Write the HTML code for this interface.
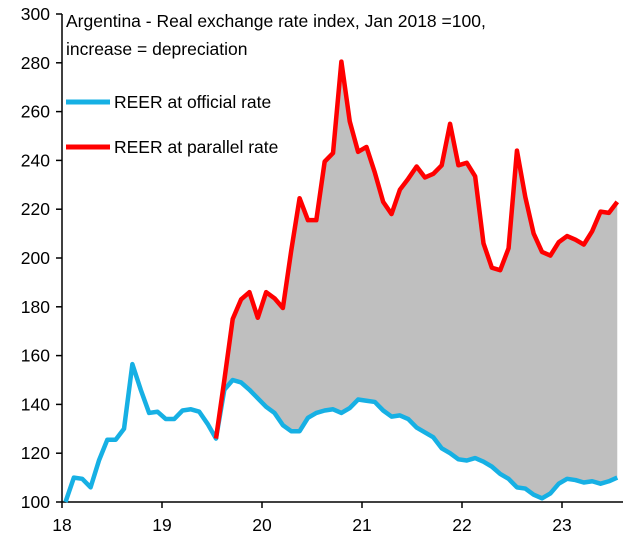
<!DOCTYPE html>
<html><head><meta charset="utf-8"><style>
body{margin:0;background:#fff;}
svg{display:block;font-family:"Liberation Sans",Arial,sans-serif;}
</style></head><body>
<svg id="chart" width="631" height="546">
<g id="plot"></g>
<text x="66" y="27" font-size="17.5" fill="#000">Argentina - Real exchange rate index, Jan 2018 =100,</text>
<text x="66" y="55" font-size="17.5" fill="#000">increase = depreciation</text>
<g>
<line x1="66" y1="102" x2="110" y2="102" stroke="#16b0e4" stroke-width="5"/>
<text x="114" y="108" font-size="17.5">REER at official rate</text>
</g>
<g>
<line x1="66" y1="147" x2="110" y2="147" stroke="#ff0000" stroke-width="5"/>
<text x="114" y="153" font-size="17.5">REER at parallel rate</text>
</g>
</svg>
<script>
const official = [100,110,109.5,106,117,125.5,125.5,130,156.5,146,136.5,137,134,134,137.5,138,137,132,126,146,150,149,146,142.5,139,136.5,131.5,129,129,134.5,136.5,137.5,138,136.5,138.5,142,141.5,141,137.5,135,135.5,134,130.5,128.5,126.5,122,120,117.5,117,118,116.5,114.5,111.5,109.5,106,105.5,103,101.5,103.5,107.5,109.5,109,108,108.5,107.5,108.5,110];
const parallelStart = 18;
const parallel = [126,150,175,183,186,175.5,186,183.5,179.5,203,224.5,215.5,215.5,239.5,243,280.5,256,243.5,245.5,235,223,218,228,232.5,237.5,233,234.5,238,255,238,239,233.5,206,196,195,204,244,225,210,202.5,201,206.5,209,207.5,205.5,211,219,218.5,223];
const yTicks = [100,120,140,160,180,200,220,240,260,280,300];
const xTickLabels = ["18","19","20","21","22","23"];

const NS="http://www.w3.org/2000/svg";
const plot=document.getElementById('plot');
const x0=65.5, monthW=8.36;
const xs=i=>x0+i*monthW;
const xYear=k=>62+100*k;
const ys=v=>502-(v-100)*(488/200);
function mk(tag,attrs){const e=document.createElementNS(NS,tag);for(const k in attrs)e.setAttribute(k,attrs[k]);plot.appendChild(e);return e;}

let pts=[];
parallel.forEach((v,j)=>pts.push(xs(parallelStart+j)+','+ys(v)));
for(let j=parallel.length-1;j>=0;j--){const i=parallelStart+j;pts.push(xs(i)+','+ys(official[i]));}
const area=mk('polygon',{points:pts.join(' '),fill:'#bfbfbf'});



const ya=mk('line',{x1:62,y1:14,x2:62,y2:502,stroke:'#000','stroke-width':1.5});


const xa=mk('line',{x1:62,y1:502,x2:623,y2:502,stroke:'#000','stroke-width':1.5});


yTicks.forEach(v=>{
  const t=mk('line',{x1:56,y1:ys(v),x2:62,y2:ys(v),stroke:'#000','stroke-width':1.5});
  
  
  const l=mk('text',{x:50,y:ys(v)+6,'font-size':17.5,'text-anchor':'end'});
  l.textContent=v;
  
  
});
xTickLabels.forEach((s,k)=>{
  const t=mk('line',{x1:xYear(k),y1:502,x2:xYear(k),y2:508,stroke:'#000','stroke-width':1.5});
  
  
  const l=mk('text',{x:xYear(k),y:531,'font-size':17.5,'text-anchor':'middle'});
  l.textContent=s;
  
  
});

const po=mk('polyline',{points:official.map((v,i)=>xs(i)+','+ys(v)).join(' '),fill:'none',stroke:'#16b0e4','stroke-width':4.5,'stroke-linejoin':'round'});


const pp=mk('polyline',{points:parallel.map((v,j)=>xs(parallelStart+j)+','+ys(v)).join(' '),fill:'none',stroke:'#ff0000','stroke-width':4.5,'stroke-linejoin':'round'});


</script>
</body></html>
